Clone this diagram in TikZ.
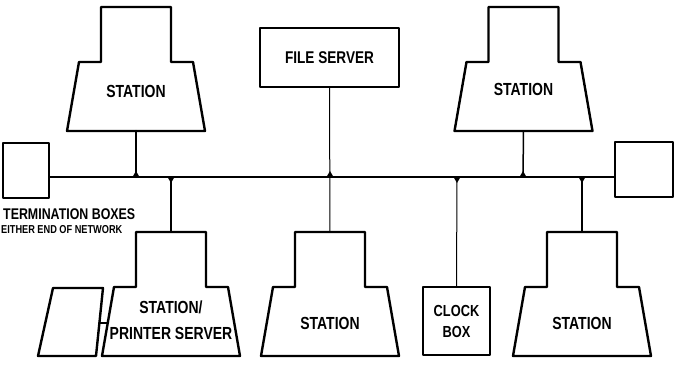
\documentclass[tikz,border=0pt]{standalone}
\usepackage{fontspec}
\setmainfont{Liberation Sans}[FakeStretch=0.8]
\tikzset{
  boxline/.style={draw, line width=2.4pt, line join=round, fill=white},
  wire/.style={line width=1.5pt},
  pics/station/.style 2 args={code={
    \draw[boxline] (-35,0) -- (35,0) -- (35,55) -- (57,55) -- (69,124) -- (-69,124) -- (-57,55) -- (-35,55) -- cycle;
    \coordinate (-top) at (0,0);
    \coordinate (-bot) at (0,124);
    \coordinate (-west) at (-63,91);
    \node[font=\fontsize{17.5}{26}\selectfont\bfseries, align=center] (-txt) at (0,#2) {#1};
  }}
}
\begin{document}
\begin{tikzpicture}[x=1pt, y=-1pt, line cap=round]
  \useasboundingbox (0,0) rectangle (681,366);
  % bus taps
  \coordinate (t1) at (136,177);
  \coordinate (t2) at (171,177);
  \coordinate (t3) at (330,177);
  \coordinate (t4) at (457,177);
  \coordinate (t5) at (523,177);
  \coordinate (t6) at (582,177);
  % termination boxes
  \node[boxline, minimum width=46, minimum height=55, inner sep=0] (lterm) at (26,170.5) {};
  \node[boxline, minimum width=58, minimum height=55, inner sep=0] (rterm) at (644,169.5) {};
  \node[anchor=west, inner sep=0, font=\fontsize{15.5}{16}\selectfont\bfseries] (tlbl) at (3,214.5) {TERMINATION BOXES};
  \node[anchor=west, inner sep=0, font=\fontsize{11.5}{12}\selectfont\bfseries] (elbl) at (1,230) {EITHER END OF NETWORK};
  % units
  \pic (tl) at (136,7) {station={STATION}{84}};
  \pic (tr) at (523.5,7) {station={STATION}{82}};
  \pic (bl) at (171,232) {station={STATION/\\PRINTER SERVER}{88}};
  \pic (bm) at (330,232) {station={STATION}{91}};
  \pic (br) at (582,232) {station={STATION}{91}};
  \node[boxline, minimum width=139, minimum height=59, inner sep=0, font=\fontsize{17}{18}\selectfont\bfseries] (fs) at (329.5,57.5) {FILE SERVER};
  \node[boxline, minimum width=67, minimum height=68, inner sep=0, align=center, font=\fontsize{16}{21}\selectfont\bfseries] (clk) at (456.5,321) {CLOCK\\BOX};
  % printer
  \draw[boxline] (53,288) -- (103,288) -- (96,356) -- (38,356) -- cycle;
  \coordinate (prn) at (99.5,323);
  % wiring
  \draw[wire] (lterm.east |- t1) -- (rterm.west |- t1);
  \draw[wire, line width=2.4pt] (tl-bot) -- (t1);
  \draw[wire] (t2) -- (bl-top);
  \draw[wire, line width=1pt] (fs.south) -- (bm-top);
  \draw[wire, line width=1pt] (t4) -- (clk.north);
  \draw[wire] (tr-bot) -- (t5);
  \draw[wire] (t6) -- (br-top);
  \draw[wire] (prn) -- (bl-west);
  \foreach \t/\d in {t1/-6,t3/-6,t5/-6,t2/6,t4/6,t6/6}
    \fill (\t) ++(-3.5,0) -- ++(7,0) -- ++(-3.5,\d) -- cycle;
\end{tikzpicture}
\end{document}
